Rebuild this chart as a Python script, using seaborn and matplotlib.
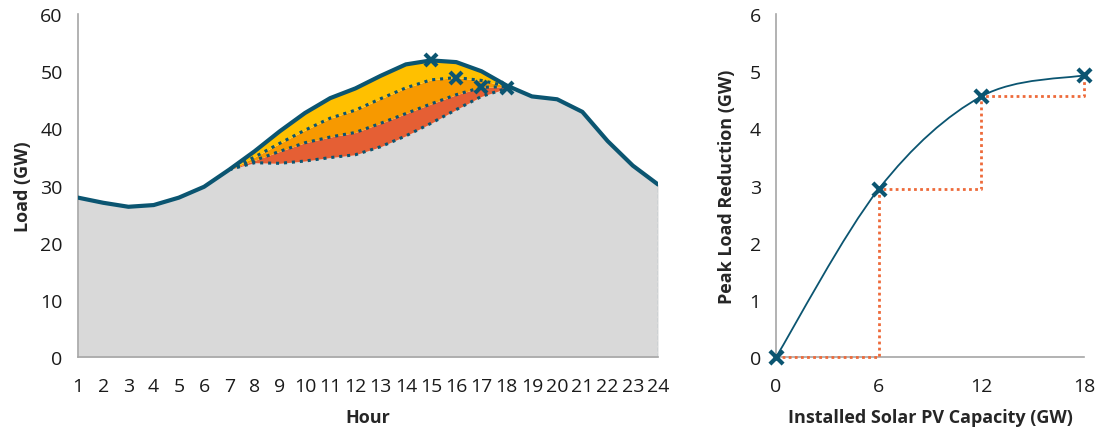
import numpy as np
import pandas as pd
import seaborn as sns
import matplotlib.pyplot as plt
from matplotlib.path import Path
from matplotlib.patches import PathPatch

# hourly load (GW)
hours = list(range(1, 25))
base_load = [27.9, 27.0, 26.3, 26.6, 27.9, 29.8, 32.8, 36.0, 39.5, 42.7, 45.3, 47.0,
             49.2, 51.2, 51.9, 51.6, 50.0, 47.5, 45.6, 45.1, 42.9, 37.8, 33.5, 30.2]
# net load with 6 / 12 / 18 GW of solar PV (hours 7..18)
pv_hours = list(range(7, 19))
net_6 = [32.8, 35.0, 37.4, 39.7, 41.8, 43.2, 45.2, 47.1, 48.5, 48.9, 48.4, 47.4]
net_12 = [32.8, 34.4, 36.0, 37.5, 38.5, 39.3, 40.9, 42.6, 44.3, 45.9, 47.2, 47.3]
net_18 = [32.8, 34.0, 33.9, 34.3, 34.9, 35.4, 36.8, 38.7, 40.9, 43.3, 45.6, 47.0]
peak_hours = [15, 16, 17, 18]
peak_loads = [51.9, 48.9, 47.2, 47.0]

# peak load reduction vs installed capacity
capacity = [0, 6, 12, 18]
reduction = [0, 2.94, 4.56, 4.93]

teal = '#0B5571'
grey = '#D9D9D9'
yellow = '#FFC000'
orange = '#F79900'
red = '#E55F34'
step_col = '#EE6A3A'

sns.set_style('white')
plt.rcParams['font.family'] = ['Open Sans', 'DejaVu Sans']

fig = plt.figure(figsize=(11, 4.31), dpi=100)
ax1 = fig.add_axes([0.0709, 0.169, 0.5273, 0.796])
ax2 = fig.add_axes([0.7055, 0.169, 0.28, 0.796])

df = pd.DataFrame({'hour': hours, 'load': base_load})
pv = pd.DataFrame({'hour': pv_hours, 'n6': net_6, 'n12': net_12, 'n18': net_18})
pv['base'] = df.set_index('hour').loc[pv_hours, 'load'].values

# grey area under the lowest net load
low = df['load'].copy()
low[df['hour'].isin(pv_hours)] = net_18
ax1.fill_between(df['hour'], 0, low, color=grey, lw=0, zorder=1)
ax1.fill_between(pv['hour'], pv['n18'], pv['n12'], color=red, lw=0, zorder=1)
ax1.fill_between(pv['hour'], pv['n12'], pv['n6'], color=orange, lw=0, zorder=1)
ax1.fill_between(pv['hour'], pv['n6'], pv['base'], color=yellow, lw=0, zorder=1)
# thin dashed border of grey area
ax1.plot([24, 24], [0, base_load[-1]], color=teal, lw=0.8, ls='--', zorder=2)

for col in ['n6', 'n12', 'n18']:
    sns.lineplot(data=pv, x='hour', y=col, ax=ax1, color=teal, lw=2.2,
                 ls=(0, (1, 1.6)), zorder=3)
sns.lineplot(data=df, x='hour', y='load', ax=ax1, color=teal, lw=3, zorder=4)
ax1.plot(peak_hours, peak_loads, ls='none', marker='x', ms=9, mew=3,
         color=teal, zorder=5)

ax1.set_xlim(1, 24)
ax1.set_ylim(0, 60)
ax1.set_xticks(hours)
ax1.set_yticks(range(0, 61, 10))
ax1.set_xlabel('Hour', fontsize=13, fontweight='bold', labelpad=10)
ax1.set_ylabel('Load (GW)', fontsize=13, fontweight='bold', labelpad=6)

# right chart: smooth curve through points
pts = np.column_stack([capacity, reduction]).astype(float)
ext = np.vstack([pts[0], pts, pts[-1]])
verts = [tuple(pts[0])]
codes = [Path.MOVETO]
for i in range(len(pts) - 1):
    p0, p1, p2, p3 = ext[i], ext[i + 1], ext[i + 2], ext[i + 3]
    c1 = p1 + (p2 - p0) / 6
    c2 = p2 - (p3 - p1) / 6
    verts += [tuple(c1), tuple(c2), tuple(p2)]
    codes += [Path.CURVE4] * 3
ax2.add_patch(PathPatch(Path(verts, codes), fill=False, color=teal, lw=1.3, zorder=4))

sx, sy = [capacity[0]], [reduction[0]]
for i in range(1, len(capacity)):
    sx += [capacity[i], capacity[i]]
    sy += [reduction[i - 1], reduction[i]]
ax2.plot(sx, sy, color=step_col, lw=2, ls=(0, (1, 1.2)), zorder=3, clip_on=False)
sns.scatterplot(x=capacity, y=reduction, ax=ax2, marker='x', s=90, linewidth=3,
                color=teal, zorder=5, clip_on=False)

ax2.set_xlim(0, 18)
ax2.set_ylim(0, 6)
ax2.set_xticks(capacity)
ax2.set_yticks(range(0, 7))
ax2.set_xlabel('Installed Solar PV Capacity (GW)', fontsize=13, fontweight='bold', labelpad=10)
ax2.set_ylabel('Peak Load Reduction (GW)', fontsize=13, fontweight='bold', labelpad=10)

for ax in (ax1, ax2):
    sns.despine(ax=ax)
    for s in ('left', 'bottom'):
        ax.spines[s].set_color('#A6A6A6')
        ax.spines[s].set_linewidth(1.2)
    ax.tick_params(axis='both', which='major', direction='out', length=6, width=1.2,
                   color='#A6A6A6', labelsize=14, labelcolor='#1a1a1a', pad=5)
    ax.tick_params(axis='x', pad=8)

fig.savefig('out.png', dpi=100)
